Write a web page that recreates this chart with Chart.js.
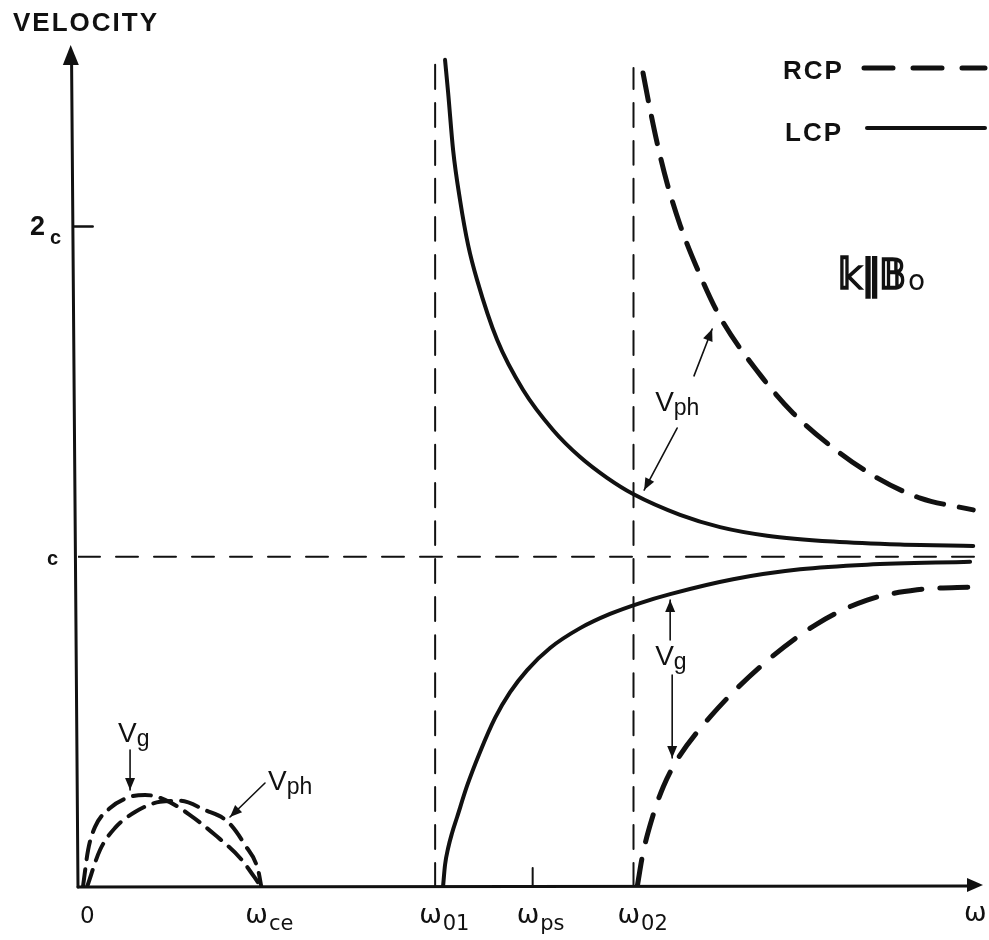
<!DOCTYPE html>
<html>
<head>
<meta charset="utf-8">
<script src="https://cdn.jsdelivr.net/npm/chart.js@4.4.0/dist/chart.umd.min.js"></script>
<style>
  html, body { margin: 0; padding: 0; background: #fff; }
</style>
</head>
<body>
<canvas id="chart" width="989" height="940"></canvas>
<script>
// frequencies, in units of the electron cyclotron frequency
const omegaTicks = [0, 1.0, 1.948, 2.48, 3.03];
const omegaTickLabels = [['0', ''], ['ω', 'ce'], ['ω', '01'], ['ω', 'ps'], ['ω', '02']];
const velocityTicks = [1, 2];
const velocityTickLabels = [['c', ''], ['2', 'c']];

// cut-off asymptotes
const omega01 = 1.948;
const omega02 = 3.03;

// LCP branch above omega01
const lcpOmega = [2.002, 2.019, 2.046, 2.084, 2.128, 2.177, 2.286, 2.428, 2.591, 2.739, 2.886, 3.028, 3.284, 3.502, 3.759, 4.119, 4.484, 4.883];
const lcpPhase = [2.505, 2.405, 2.232, 2.080, 1.944, 1.838, 1.657, 1.505, 1.384, 1.302, 1.239, 1.190, 1.127, 1.090, 1.064, 1.046, 1.037, 1.033];
const lcpGroupOmega = [1.991, 2.002, 2.019, 2.040, 2.068, 2.122, 2.193, 2.275, 2.357, 2.450, 2.575, 2.739, 2.902, 3.066, 3.230, 3.573, 3.939, 4.304, 4.866];
const lcpGroup = [0.0, 0.067, 0.118, 0.163, 0.212, 0.306, 0.409, 0.512, 0.590, 0.657, 0.724, 0.784, 0.827, 0.860, 0.887, 0.932, 0.962, 0.976, 0.985];

// RCP branch above omega02
const rcpOmega = [3.082, 3.121, 3.159, 3.213, 3.284, 3.393, 3.502, 3.721, 3.901, 4.119, 4.359, 4.594, 4.883];
const rcpPhase = [2.465, 2.353, 2.253, 2.132, 2.005, 1.853, 1.726, 1.551, 1.435, 1.330, 1.239, 1.178, 1.142];
const rcpGroupOmega = [3.050, 3.082, 3.137, 3.192, 3.268, 3.448, 3.721, 4.032, 4.304, 4.577, 4.905];
const rcpGroup = [0.0, 0.103, 0.218, 0.303, 0.385, 0.515, 0.667, 0.797, 0.869, 0.900, 0.909];

// whistler band below omega_ce
const whistlerOmega = [0.027, 0.055, 0.093, 0.175, 0.284, 0.366, 0.475, 0.611, 0.747, 0.884, 1.0];
const whistlerGroup = [0.0, 0.112, 0.182, 0.239, 0.273, 0.279, 0.264, 0.218, 0.158, 0.088, 0.0];
const whistlerPhaseOmega = [0.049, 0.12, 0.202, 0.311, 0.447, 0.556, 0.693, 0.818, 0.911, 0.982, 1.0];
const whistlerPhase = [0.0, 0.112, 0.179, 0.227, 0.258, 0.261, 0.233, 0.197, 0.127, 0.052, 0.0];

const INK = '#111';

function pts(xs, ys) {
  return xs.map((x, i) => ({ x: x, y: ys[i] }));
}

function curve(data, width, dash) {
  return {
    data: data,
    showLine: true,
    borderColor: INK,
    borderWidth: width,
    borderDash: dash || [],
    borderCapStyle: 'round',
    pointRadius: 0,
    cubicInterpolationMode: 'monotone',
    fill: false
  };
}

// labels with arrows, anchored in (omega, v)
const notes = [
  { main: 'V', sub: 'ph', at: [3.148, 1.441], arrows: [[[3.268, 1.39], [3.088, 1.202]], [[3.36, 1.548], [3.459, 1.69]]] },
  { main: 'V', sub: 'g', at: [3.148, 0.672], arrows: [[[3.23, 0.748], [3.23, 0.869]], [[3.241, 0.642], [3.241, 0.391]]] },
  { main: 'V', sub: 'g', at: [0.218, 0.439], arrows: [[[0.284, 0.415], [0.284, 0.294]]] },
  { main: 'V', sub: 'ph', at: [1.037, 0.294], arrows: [[[1.02, 0.315], [0.829, 0.212]]] }
];

function arrowHead(ctx, x0, y0, x1, y1, len, half) {
  const a = Math.atan2(y1 - y0, x1 - x0);
  ctx.beginPath();
  ctx.moveTo(x1, y1);
  ctx.lineTo(x1 - len * Math.cos(a) + half * Math.sin(a), y1 - len * Math.sin(a) - half * Math.cos(a));
  ctx.lineTo(x1 - len * Math.cos(a) - half * Math.sin(a), y1 - len * Math.sin(a) + half * Math.cos(a));
  ctx.closePath();
  ctx.fill();
}

// draw text squeezed or stretched to a given width, with a heavier outline
function fitText(ctx, text, x, y, w) {
  const m = ctx.measureText(text).width;
  ctx.save();
  ctx.translate(x, y);
  ctx.scale(w / m, 1);
  ctx.lineWidth = 1.6;
  ctx.strokeText(text, 0, 0);
  ctx.fillText(text, 0, 0);
  ctx.restore();
}

const axesAndText = {
  id: 'axesAndText',
  afterDatasetsDraw(chart) {
    const ctx = chart.ctx;
    const xs = chart.scales.x, ys = chart.scales.y;
    const X = v => xs.getPixelForValue(v), Y = v => ys.getPixelForValue(v);
    const x0 = X(0), y0 = Y(0);
    ctx.save();
    ctx.fillStyle = INK;
    ctx.strokeStyle = INK;
    ctx.lineCap = 'round';
    ctx.textBaseline = 'alphabetic';
    ctx.textAlign = 'left';

    // axes with arrowheads
    ctx.lineWidth = 3;
    ctx.beginPath();
    ctx.moveTo(x0, y0);
    ctx.lineTo(X(-0.035), Y(2.5));
    ctx.stroke();
    arrowHead(ctx, x0, y0, X(-0.04), ys.top, 20, 8);
    ctx.beginPath();
    ctx.moveTo(x0, y0);
    ctx.lineTo(xs.right - 10, y0 - 1);
    ctx.stroke();
    arrowHead(ctx, x0, y0, xs.right + 3, y0 - 2, 16, 7);

    // velocity tick and labels
    ctx.lineWidth = 2.5;
    ctx.beginPath();
    ctx.moveTo(X(-0.02), Y(2));
    ctx.lineTo(X(0.08), Y(2));
    ctx.stroke();
    velocityTicks.forEach((t, i) => {
      const [m, s] = velocityTickLabels[i];
      if (s) {
        ctx.font = 'bold 27px "Liberation Sans", Arial, sans-serif';
        ctx.fillText(m, 30, Y(t) + 8);
        ctx.font = 'bold 20px "Liberation Sans", Arial, sans-serif';
        ctx.fillText(s, 50, Y(t) + 17);
      } else {
        ctx.font = 'bold 20px "Liberation Sans", Arial, sans-serif';
        ctx.fillText(m, 47, Y(t) + 8);
      }
    });

    // omega_ps tick
    ctx.lineWidth = 2;
    ctx.beginPath();
    ctx.moveTo(X(omegaTicks[3]), y0);
    ctx.lineTo(X(omegaTicks[3]), y0 - 19);
    ctx.stroke();

    // frequency tick labels
    omegaTicks.forEach((t, i) => {
      const [m, s] = omegaTickLabels[i];
      const left = s ? X(t) - 16 : X(t) + 2;
      ctx.font = s ? '27px "DejaVu Sans", sans-serif' : '23px "DejaVu Sans", sans-serif';
      ctx.fillText(m, left, y0 + 36);
      if (s) {
        const mw = ctx.measureText(m).width;
        ctx.font = '21px "DejaVu Sans", sans-serif';
        ctx.fillText(s, left + mw + 1, y0 + 43);
      }
    });
    ctx.font = '27px "DejaVu Sans", sans-serif';
    ctx.fillText('ω', xs.right - 16, y0 + 34);

    // axis title
    ctx.font = 'bold 26px "Liberation Sans", Arial, sans-serif';
    ctx.letterSpacing = '2px';
    ctx.fillText('VELOCITY', 13, 31);

    // legend
    ctx.fillText('RCP', 783, 79);
    ctx.fillText('LCP', 785, 141);
    ctx.letterSpacing = '0px';
    ctx.lineWidth = 5;
    ctx.setLineDash([29, 20]);
    ctx.beginPath();
    ctx.moveTo(864, 68);
    ctx.lineTo(985, 68);
    ctx.stroke();
    ctx.setLineDash([]);
    ctx.lineWidth = 4;
    ctx.beginPath();
    ctx.moveTo(867, 128);
    ctx.lineTo(985, 128);
    ctx.stroke();

    // propagation direction
    const kx = X(4.145), ky = Y(1.81);
    ctx.font = 'bold 42px "DejaVu Sans", sans-serif';
    fitText(ctx, '𝕜∥𝔹', kx, ky, 68);
    ctx.font = '28px "DejaVu Sans", sans-serif';
    ctx.fillText('o', kx + 70, ky + 1);

    // velocity annotations
    notes.forEach(n => {
      const lx = X(n.at[0]), ly = Y(n.at[1]);
      ctx.font = '28px "Liberation Sans", Arial, sans-serif';
      ctx.fillText(n.main, lx, ly);
      const vw = ctx.measureText(n.main).width;
      ctx.font = '23px "Liberation Sans", Arial, sans-serif';
      ctx.fillText(n.sub, lx + vw, ly + 4);
      ctx.lineWidth = 1.6;
      n.arrows.forEach(([a, b]) => {
        const ax = X(a[0]), ay = Y(a[1]), bx = X(b[0]), by = Y(b[1]);
        ctx.beginPath();
        ctx.moveTo(ax, ay);
        ctx.lineTo(bx, by);
        ctx.stroke();
        arrowHead(ctx, ax, ay, bx, by, 12, 5);
      });
    });
    ctx.restore();
  }
};

new Chart(document.getElementById('chart'), {
  type: 'scatter',
  data: {
    datasets: [
      curve(pts([omega01, omega01], [0, 2.5]), 2, [24, 14]),
      curve(pts([omega02, omega02], [0, 2.48]), 2, [24, 14]),
      curve(pts([0, 4.9], [1, 1]), 2, [22, 16]),
      curve(pts(lcpOmega, lcpPhase), 4),
      curve(pts(lcpGroupOmega, lcpGroup), 4),
      curve(pts(rcpOmega, rcpPhase), 5, [28, 16]),
      curve(pts(rcpGroupOmega, rcpGroup), 5, [28, 18]),
      curve(pts(whistlerOmega, whistlerGroup), 4, [18, 10]),
      curve(pts(whistlerPhaseOmega, whistlerPhase), 4, [18, 10])
    ]
  },
  options: {
    responsive: false,
    animation: false,
    events: [],
    layout: { padding: { left: 78, right: 9, top: 45, bottom: 53 } },
    plugins: { legend: { display: false }, tooltip: { enabled: false } },
    scales: {
      x: { type: 'linear', min: 0, max: 4.92, display: false },
      y: { type: 'linear', min: 0, max: 2.55, display: false }
    }
  },
  plugins: [axesAndText]
});
</script>
</body>
</html>
